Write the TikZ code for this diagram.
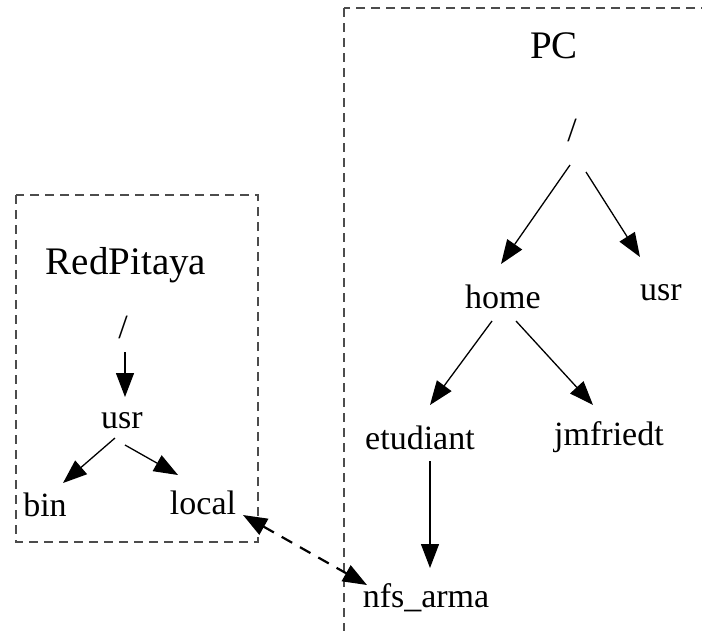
\documentclass[tikz,border=0pt]{standalone}
\usepackage{fontspec}
\setmainfont{Liberation Serif}
\usetikzlibrary{arrows.meta}
\begin{document}
\begin{tikzpicture}[x=1pt,y=-1pt,
  lbl/.style={inner sep=0pt, font=\fontsize{34}{40}\selectfont},
  ttl/.style={inner sep=0pt, font=\fontsize{39}{46}\selectfont},
  edge/.style={line width=1.3pt, -{Triangle[length=24pt,width=18pt]}},
  biedge/.style={line width=2.2pt, dash pattern=on 12pt off 9pt, {Triangle[length=24pt,width=18pt]}-{Triangle[length=24pt,width=18pt]}},
  cluster/.style={draw=black!70, line width=1.2pt, dash pattern=on 9pt off 6pt}]
\useasboundingbox (0,0) rectangle (702,630);
\begin{scope}
\clip (0,0) rectangle (702,630);
\draw[cluster] (344,8) rectangle (730,660);
\end{scope}
\draw[cluster] (16,195) rectangle (258,542);
% PC
\node[ttl] (pc) at (554,46) {PC};
\node[lbl] (root) at (572,130) {/};
\node[lbl] (home) at (503,297) {home};
\node[lbl] (usra) at (661,293) {usr};
\node[lbl] (etu) at (420,438) {etudiant};
\node[lbl] (jmf) at (609,437) {jmfriedt};
\node[lbl] (nfs) at (426,598) {nfs\_arma};
% RedPitaya
\node[ttl] (rp) at (126,265) {RedPitaya};
\node[lbl] (rroot) at (123,327) {/};
\node[lbl] (usrb) at (122,421) {usr};
\node[lbl] (bin) at (45,505) {bin};
\node[lbl] (local) at (203,503) {local};
% edges
\draw[edge] ([shift={(-2,35)}]root.center) -- ([shift={(-2,-33)}]home.center);
\draw[edge] ([shift={(14,42)}]root.center) -- ([shift={(-21,-36)}]usra.center);
\draw[edge] ([shift={(-11,24)}]home.center) -- ([shift={(10,-33)}]etu.center);
\draw[edge] ([shift={(13,24)}]home.center) -- ([shift={(-16,-32)}]jmf.center);
\draw[edge] ([shift={(10,23)}]etu.center) -- ([shift={(4,-30)}]nfs.center);
\draw[edge] ([shift={(2,25)}]rroot.center) -- ([shift={(3,-24)}]usrb.center);
\draw[edge] ([shift={(-7,17)}]usrb.center) -- ([shift={(18,-22)}]bin.center);
\draw[edge] ([shift={(3,24)}]usrb.center) -- ([shift={(-25,-28)}]local.center);
\draw[biedge] ([shift={(40,12)}]local.center) -- ([shift={(-59,-13)}]nfs.center);
\end{tikzpicture}
\end{document}
